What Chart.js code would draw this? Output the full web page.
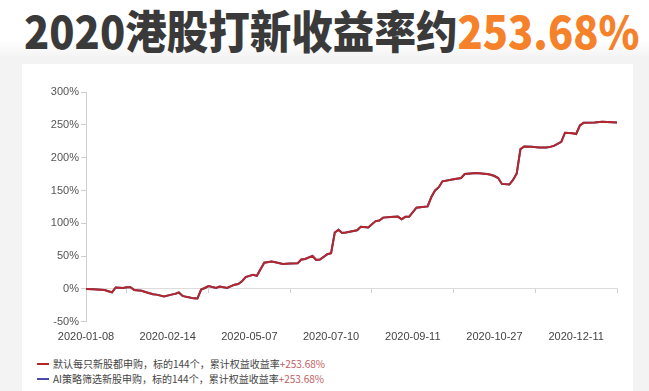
<!DOCTYPE html>
<html lang="zh-CN">
<head>
<meta charset="utf-8">
<title>2020港股打新收益率</title>
<script src="https://cdn.jsdelivr.net/npm/chart.js@4.4.1/dist/chart.umd.min.js"></script>
<style>
  html, body { margin: 0; padding: 0; }
  body {
    width: 649px; height: 391px; overflow: hidden; position: relative;
    background: #f3f3f3;
    font-family: "Liberation Sans", "Noto Sans CJK SC", sans-serif;
  }
  .head {
    position: absolute; left: 0; top: 0; width: 649px; height: 58px;
    background: linear-gradient(#ffffff 70%, #f3f3f3);
  }
  .title {
    position: absolute; left: 24px; top: 7px; white-space: nowrap;
    font-family: "Noto Sans CJK SC", sans-serif; font-weight: 900;
    font-size: 45px; line-height: 46px; color: #3a3a3a;
    transform: scaleX(0.923); transform-origin: 0 0;
  }
  .title .hl { color: #f5822a; }
  .card {
    position: absolute; left: 22px; top: 64px; width: 611px; height: 340px;
    background: #fff;
  }
  #chart { position: absolute; left: 0; top: 70px; }
  .legend {
    position: absolute; left: 37px; top: 356px;
    font-family: "Noto Sans CJK SC", sans-serif; font-size: 10px; color: #444;
  }
  .legend .row { height: 15px; line-height: 15px; white-space: nowrap; }
  .legend .swatch {
    display: inline-block; width: 12px; height: 2px; vertical-align: middle;
    margin-right: 4px; position: relative; top: -1px;
  }
  .legend .gain { color: #c0605f; }
</style>
</head>
<body>
<div class="head"></div>
<div class="title">2020港股打新收益率约<span class="hl">253.68%</span></div>
<div class="card"></div>
<canvas id="chart" width="649" height="283"></canvas>
<div class="legend" id="legend"></div>

<script>
  // ---- data ----
  // position of each sampled point along the 144 subscriptions (0..143)
  const dayIndex = [
    0, 2, 5, 6, 7, 8, 10, 11, 12, 13, 15, 16, 18, 19, 21, 23, 24, 25, 26, 27,
    29, 30, 31, 32, 33, 35, 36, 38, 40, 41, 42, 43, 44, 45, 46, 47, 48, 50, 51, 53,
    55, 57, 58, 59, 61, 62, 63, 65, 66, 67, 68, 69, 70, 71, 73, 74, 76, 78, 79, 80,
    82, 84, 85, 86, 87, 89, 90, 92, 93, 94, 95, 96, 99, 101, 102, 105, 108, 109, 110, 111,
    112, 114, 115, 116, 117, 118, 120, 122, 124, 125, 126, 127, 128, 129, 131, 132, 133, 134, 137, 139,
    143
  ];
  // cumulative return, %
  const defaultReturn = [
    0, -0.5, -1.5, -3.5, -5, 2.3, 1.5, 2.6, 2.6, -1.5, -2.6, -4.5, -8, -8.6, -11.3, -8.6, -7.5, -5.3, -10.6, -12,
    -14.3, -14.6, -1, 1.5, 4.5, 1.5, 3.8, 1.5, 6.5, 7.5, 11.6, 18, 20, 21.6, 20, 30, 40, 41.8, 40.8, 38.2,
    38.8, 39.3, 44.8, 45.6, 50.3, 44.2, 44.8, 52.9, 54.4, 86, 90, 85.3, 86, 87.1, 89.5, 94.8, 93.6, 103.4, 104.2, 108.7,
    109.8, 110.2, 106.2, 109.9, 109.9, 123.8, 124.6, 125.8, 140, 150, 155, 164, 167, 169, 175, 176.7, 175, 174, 172, 169,
    160, 159, 166, 176, 213, 217, 216.5, 215.5, 215.5, 216.4, 218, 221, 224, 238, 237, 236, 249, 253, 253.7, 254.5,
    253.68
  ];
  // the AI-filtered strategy picked the same 144 names, so the curve is identical
  const aiReturn = defaultReturn.slice();

  const seriesNames = [
    '默认每只新股都申购，标的144个，累计权益收益率',
    'AI策略筛选新股申购，标的144个，累计权益收益率'
  ];
  const seriesGain = ['+253.68%', '+253.68%'];

  const tickIndex = [0, 22, 44, 66, 88, 110, 132];
  const tickDates = ['2020-01-08', '2020-02-14', '2020-05-07', '2020-07-10', '2020-09-11', '2020-10-27', '2020-12-11'];
  const lastIndex = 143;

  const yTicks = [-50, 0, 50, 100, 150, 200, 250, 300];

  // ---- chart ----
  const toPoints = (vals) => vals.map((v, i) => ({ x: dayIndex[i], y: v }));
  const fixedTicks = (scale) => { scale.ticks = tickIndex.map(v => ({ value: v })); };
  const axisFont = { family: 'Liberation Sans', size: 11 };

  const chart = new Chart(document.getElementById('chart'), {
    type: 'line',
    data: {
      datasets: [
        {
          label: seriesNames[0],
          data: toPoints(defaultReturn),
          borderColor: '#b3272a',
          borderWidth: 2,
          pointRadius: 0,
          tension: 0,
          xAxisID: 'x', yAxisID: 'y'
        },
        {
          label: seriesNames[1],
          data: toPoints(aiReturn),
          borderColor: '#4a4aa6',
          borderWidth: 2,
          pointRadius: 0,
          tension: 0,
          xAxisID: 'x', yAxisID: 'y'
        }
      ]
    },
    options: {
      responsive: false,
      animation: false,
      devicePixelRatio: 1,
      layout: { padding: { left: 0, right: 32, top: 22, bottom: 0 } },
      plugins: { legend: { display: false }, tooltip: { enabled: false } },
      scales: {
        // axis line sitting on 0%, only draws the line and small tick marks
        x: {
          type: 'linear',
          position: { y: 0 },
          min: 0, max: lastIndex,
          afterBuildTicks: fixedTicks,
          ticks: { display: false },
          border: { color: '#dcdcdc', width: 1 },
          grid: { drawOnChartArea: false, drawTicks: true, tickLength: 4, tickColor: '#d0d0d0', offset: true }
        },
        // date labels along the bottom
        xLabels: {
          type: 'linear',
          position: 'bottom',
          min: 0, max: lastIndex,
          afterBuildTicks: fixedTicks,
          border: { display: false },
          grid: { display: false, drawTicks: false },
          ticks: {
            padding: 9, color: '#444', font: axisFont, maxRotation: 0, autoSkip: false,
            callback: (v) => tickDates[tickIndex.indexOf(v)] ?? ''
          }
        },
        y: {
          position: 'left',
          min: -50, max: 300,
          afterBuildTicks: (scale) => { scale.ticks = yTicks.map(v => ({ value: v })); },
          afterFit: (scale) => { scale.width = 86; },
          border: { color: '#cfcfcf', width: 1 },
          grid: { drawOnChartArea: false, drawTicks: true, tickLength: 5, tickColor: '#cfcfcf' },
          ticks: { padding: 2, color: '#555', font: axisFont, callback: (v) => v + '%' }
        }
      }
    }
  });

  // ---- html legend (two-colour text, so built by hand from the datasets) ----
  const legendEl = document.getElementById('legend');
  chart.data.datasets.forEach((ds, i) => {
    const row = document.createElement('div');
    row.className = 'row';
    row.innerHTML = `<span class="swatch" style="background:${ds.borderColor}"></span>` +
      `${ds.label}<span class="gain">${seriesGain[i]}</span>`;
    legendEl.appendChild(row);
  });
</script>
</body>
</html>
